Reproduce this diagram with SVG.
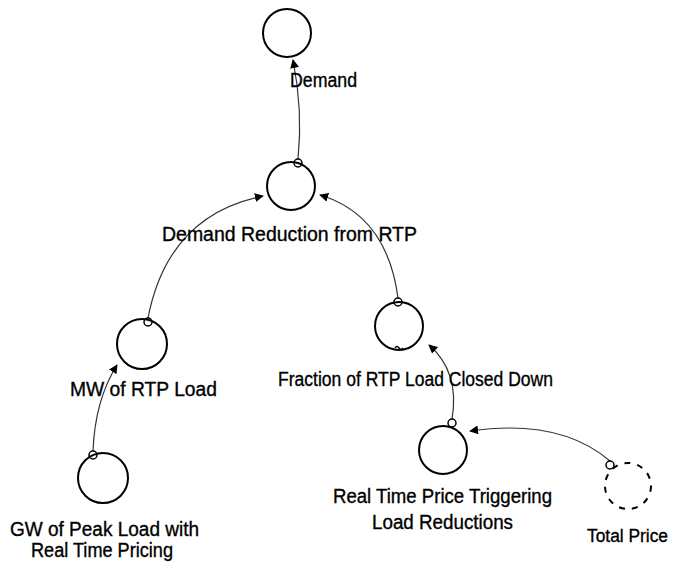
<svg xmlns="http://www.w3.org/2000/svg" width="676" height="567" viewBox="0 0 676 567">
<style>
.node{fill:none;stroke:#000;stroke-width:2}
.ghost{fill:none;stroke:#000;stroke-width:2;stroke-dasharray:6 7}
.lbl{font-family:"Liberation Sans",Arial,sans-serif;font-size:20px;fill:#000;stroke:#000;stroke-width:0.35}
.link{fill:none;stroke:#333;stroke-width:1.2}
.src{fill:#fff;stroke:#000;stroke-width:1.5}
</style>
<defs>
<marker id="arr" viewBox="0 0 10 10" refX="9" refY="5" markerWidth="9" markerHeight="9" markerUnits="userSpaceOnUse" orient="auto">
<path d="M0,0 L10,5 L0,10 z" fill="#000"/>
</marker>
</defs>
<rect width="676" height="567" fill="#fff"/>
<g id="connectors">
<path class="link" d="M298,159 Q303,110 293,60" marker-end="url(#arr)"/>
<path class="link" d="M148,318 Q168,215 263,196" marker-end="url(#arr)"/>
<path class="link" d="M398,298 Q387,215 320,195" marker-end="url(#arr)"/>
<path class="link" d="M93,451 Q95,400 117,365" marker-end="url(#arr)"/>
<path class="link" d="M452,419 Q460,372 429,345" marker-end="url(#arr)"/>
<path class="link" d="M610,461 Q560,418 470,431" marker-end="url(#arr)"/>
<circle class="src" cx="298" cy="163" r="4"/>
<circle class="src" cx="148" cy="322" r="4"/>
<circle class="src" cx="398" cy="302" r="4"/>
<circle class="src" cx="93" cy="455" r="4"/>
<circle class="src" cx="452" cy="423" r="4"/>
<circle class="src" cx="610" cy="465" r="4"/>
</g>
<g id="demand">
<circle class="node" cx="287" cy="33" r="24"/>
<text class="lbl" x="290" y="87" textLength="67" lengthAdjust="spacingAndGlyphs">Demand</text>
</g>
<g id="demand-reduction">
<circle class="node" cx="291" cy="186" r="24"/>
<text class="lbl" x="162" y="241" textLength="255" lengthAdjust="spacingAndGlyphs">Demand Reduction from RTP</text>
</g>
<g id="mw-rtp-load">
<circle class="node" cx="142" cy="344" r="25"/>
<text class="lbl" x="70" y="396" textLength="147" lengthAdjust="spacingAndGlyphs">MW of RTP Load</text>
</g>
<g id="fraction-closed">
<circle class="node" cx="399" cy="326" r="24"/>
<path d="M395,348 q2,-3 4,0 q2,3 4,0" fill="none" stroke="#000" stroke-width="1.5"/>
<text class="lbl" x="278" y="386" textLength="275" lengthAdjust="spacingAndGlyphs">Fraction of RTP Load Closed Down</text>
</g>
<g id="rt-price-trigger">
<circle class="node" cx="443" cy="450" r="24"/>
<text class="lbl" x="333" y="503" textLength="219" lengthAdjust="spacingAndGlyphs">Real Time Price Triggering</text>
<text class="lbl" x="372" y="529" textLength="141" lengthAdjust="spacingAndGlyphs">Load Reductions</text>
</g>
<g id="total-price">
<circle class="ghost" cx="628" cy="486" r="23"/>
<text class="lbl" x="587" y="542" style="font-size:18px" textLength="81" lengthAdjust="spacingAndGlyphs">Total Price</text>
</g>
<g id="gw-peak-load">
<circle class="node" cx="103" cy="478" r="25"/>
<text class="lbl" x="10" y="536" textLength="189" lengthAdjust="spacingAndGlyphs">GW of Peak Load with</text>
<text class="lbl" x="31" y="557" textLength="142" lengthAdjust="spacingAndGlyphs">Real Time Pricing</text>
</g>
</svg>
